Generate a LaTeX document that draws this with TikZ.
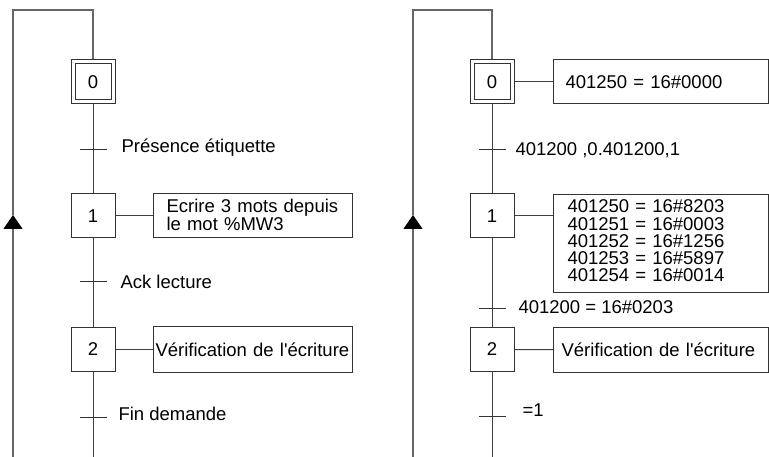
\documentclass[tikz,border=0pt]{standalone}
\usepackage{fontspec}
\setmainfont{Liberation Sans}
\usetikzlibrary{arrows.meta}

\begin{document}
\begin{tikzpicture}[x=1pt,y=-1pt,line width=1pt,draw=black!75,font=\fontsize{18.5}{17.3}\selectfont]
    \tikzstyle{etape}=[draw=black!80,fill=white,minimum size=44pt,inner sep=0pt]
    \tikzstyle{etape init}=[etape,double,double distance=3pt,minimum size=40pt,outer sep=2.5pt]
    \tikzstyle{transition}=[fill=black!80,minimum width=27pt,minimum height=1pt,inner sep=0pt,outer sep=0pt]
    \tikzstyle{action}=[draw=black!80,fill=white,align=left,inner ysep=0pt,minimum height=44pt,anchor=west]
    \tikzstyle{receptivite}=[anchor=base west,inner sep=0pt]
    \tikzstyle{retour}=[draw=black!60,line width=1.2pt]

    \useasboundingbox (0,0) rectangle (769,457);

    % Draw the steps of both grafcets.
    \foreach \g/\x in {A/93, B/492} {
        \node[etape init] (\g-0) at (\x,82) {0};
        \node[etape] (\g-1) at (\x,216) {1};
        \node[etape] (\g-2) at (\x,349.5) {2};
    }

    % Draw the transitions.
    \foreach \g/\x/\n/\y in {A/93/1/150, A/93/2/282, A/93/3/417, B/492/1/150, B/492/2/309, B/492/3/416}
        \node[transition] (\g-T\n) at (\x,\y) {};

    % Points for the loop back.
    \foreach \g/\x/\r in {A/93/13, B/492/413} {
        \coordinate (\g-haut) at (\x,10);
        \coordinate (\g-fin) at (\x,457);
        \coordinate (\g-retour) at (\r,457);
        \coordinate (\g-fleche) at (\r,215);
    }

    % Connect steps and transitions.
    \foreach \g in {A,B} {
        \draw (\g-0) -- (\g-T1) -- (\g-1) -- (\g-T2) -- (\g-2) -- (\g-T3) -- (\g-fin);
        \draw[retour,-{Triangle[width=19pt,length=14pt,color=black]}] (\g-retour) -- (\g-fleche);
        \draw[retour] (\g-fleche) |- (\g-haut) -- (\g-0);
    }

    % Action boxes, left grafcet
    \node[action,text width=173pt,inner xsep=13pt,text depth=20pt] (A-a1) at (153,216) {Ecrire 3 mots depuis\\le mot \%MW3};
    \node[action,text width=195pt,inner xsep=2pt,minimum height=45pt] (A-a2) at (153,349.5) {Vérification de l\textquotesingle{}écriture};

    % Action boxes, right grafcet
    \node[action,text width=191pt,inner xsep=12pt] (B-a0) at (553,82) {401250 = 16\#0000};
    \node[action,text width=187pt,inner xsep=14pt,minimum height=98pt,text depth=74.5pt,anchor=north west] (B-a1) at (553,194)
        {401250 = 16\#8203\\401251 = 16\#0003\\401252 = 16\#1256\\401253 = 16\#5897\\401254 = 16\#0014};
    \node[action,text width=199pt,inner xsep=8pt] (B-a2) at (553,350) {Vérification de l\textquotesingle{}écriture};

    % Link steps with their actions.
    \draw (A-1) -- (A-a1);
    \draw (A-2) -- (A-a2);
    \draw (B-0) -- (B-a0);
    \draw (B-1) -- (B-1 -| B-a1.west);
    \draw (B-2) -- (B-a2);

    % Receptivities
    \node[receptivite] (A-r1) at (121,152.5) {Présence étiquette};
    \node[receptivite] (A-r2) at (120,288.3) {Ack lecture};
    \node[receptivite] (A-r3) at (118,420) {Fin demande};
    \node[receptivite] (B-r1) at (515,155.5) {401200 ,0.401200,1};
    \node[receptivite] (B-r2) at (518,314) {401200 = 16\#0203};
    \node[receptivite] (B-r3) at (522,416) {=1};
\end{tikzpicture}
\end{document}
